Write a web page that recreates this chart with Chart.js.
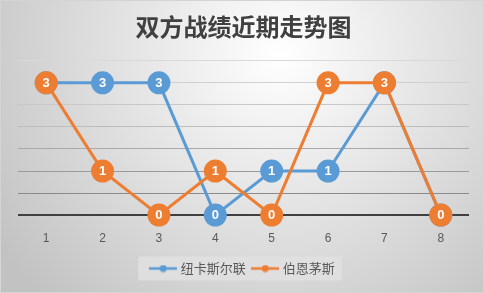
<!DOCTYPE html>
<html><head><meta charset="utf-8">
<script src="https://cdn.jsdelivr.net/npm/chart.js@4"></script>
<style>html,body{margin:0;padding:0;background:#fff}#w{width:484px;height:293px;position:relative}</style>
</head><body><div id="w"><canvas id="c" width="484" height="293"></canvas></div>
<script>
const titleText = '双方战绩近期走势图';
const categories = ['1','2','3','4','5','6','7','8'];
const seriesNames = ['纽卡斯尔联','伯恩茅斯'];
const newcastle = [3,3,3,0,1,1,3,0];
const bournemouth = [3,1,0,1,0,3,3,0];
const colors = ['#5B9BD5','#ED7D31'];
const gridColors = ['#404040','#8a8a8a','#9a9a9a','#a9a9a9','#bdbdbd','#c8c8c8','#d0d0d0','#d9d9d9'];

function marker(col){
  const c=document.createElement('canvas');c.width=28;c.height=8;
  const x=c.getContext('2d');
  x.strokeStyle=col;x.lineWidth=2.5;x.beginPath();x.moveTo(0,4);x.lineTo(28,4);x.stroke();
  x.fillStyle=col;x.beginPath();x.arc(14,4,3.5,0,Math.PI*2);x.fill();
  return c;
}

const bgPlugin={id:'bg',beforeDraw(chart){
  const ctx=chart.ctx,W=chart.width,H=chart.height;
  ctx.save();
  const g=ctx.createRadialGradient(280,55,0,280,55,340);
  g.addColorStop(0,'#ffffff');g.addColorStop(1,'#c2c2c2');
  ctx.fillStyle=g;ctx.fillRect(0,0,W,H);
  ctx.strokeStyle='#d4d4d4';ctx.lineWidth=1;ctx.strokeRect(0.5,0.5,W-1,H-1);
  const L=chart.legend;
  if(L&&L.legendHitBoxes&&L.legendHitBoxes.length){
    const hb=L.legendHitBoxes;const first=hb[0],last=hb[hb.length-1];
    const cy=first.top+first.height/2;
    ctx.fillStyle='rgba(225,225,225,0.85)';
    const x0=first.left-14,x1=last.left+last.width+7;
    ctx.fillRect(x0,cy-12,x1-x0,24);
  }
  ctx.restore();
}};
const labelPlugin={id:'lbl',afterDatasetDraw(chart,args){
  const ctx=chart.ctx,meta=args.meta,ds=chart.data.datasets[args.index];
  ctx.save();ctx.fillStyle='#ffffff';ctx.font='bold 13px "Liberation Sans", Arial, sans-serif';
  ctx.textAlign='center';ctx.textBaseline='middle';
  meta.data.forEach((p,i)=>{ctx.fillText(String(ds.data[i]),p.x,p.y+0.5);});
  ctx.restore();
}};

new Chart(document.getElementById('c'),{
  type:'line',
  data:{labels:categories,datasets:[
    {label:seriesNames[0],data:newcastle,borderColor:colors[0],backgroundColor:colors[0],borderWidth:3,pointRadius:11.5,pointHoverRadius:11.5,pointBorderWidth:0,order:1,tension:0,clip:false},
    {label:seriesNames[1],data:bournemouth,borderColor:colors[1],backgroundColor:colors[1],borderWidth:3,pointRadius:11.5,pointHoverRadius:11.5,pointBorderWidth:0,order:0,tension:0,clip:false}
  ]},
  options:{
    responsive:false,animation:false,
    layout:{padding:{left:18,right:15,top:0,bottom:8}},
    plugins:{
      title:{display:true,text:titleText,color:'#404040',font:{family:'"Noto Sans CJK SC", sans-serif',size:24,weight:'bold'},padding:{top:12,bottom:20}},
      legend:{position:'bottom',labels:{color:'#595959',font:{family:'"Noto Sans CJK SC", sans-serif',size:13},usePointStyle:true,pointStyleWidth:22,
        generateLabels(chart){return chart.data.datasets.map((d,i)=>({text:d.label,datasetIndex:i,pointStyle:marker(colors[i]),fontColor:'#595959',lineWidth:0,strokeStyle:'transparent',fillStyle:'transparent'}));},
        boxWidth:28,boxHeight:8,padding:8.5}},
      tooltip:{enabled:false}
    },
    scales:{
      x:{offset:true,grid:{display:false},border:{display:false},ticks:{color:'#595959',font:{family:'"Liberation Sans", Arial, sans-serif',size:12},padding:8}},
      y:{min:0,max:3.5,ticks:{display:false,stepSize:0.5},border:{display:false},
        grid:{drawTicks:false,color:(c)=>gridColors[c.index]||'#d9d9d9',lineWidth:(c)=>c.index===0?2:1}}
    }
  },
  plugins:[bgPlugin,labelPlugin]
});
</script></body></html>
